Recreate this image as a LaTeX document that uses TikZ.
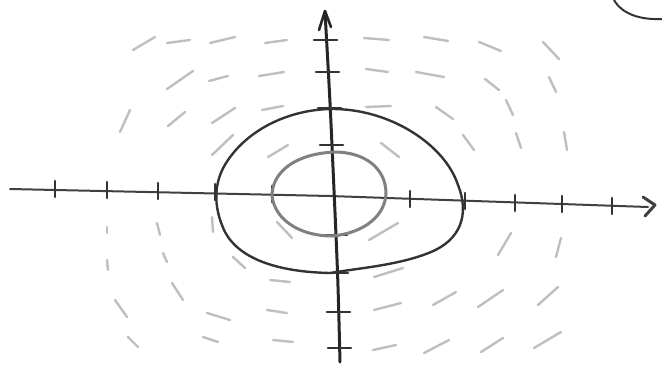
\documentclass[tikz,border=0pt]{standalone}
\usetikzlibrary{calc}
\begin{document}
\begin{tikzpicture}[x=1pt,y=-1pt,
  axis/.style={draw=black!75,line width=2pt,line cap=round,line join=round},
  tickmark/.style={draw=black!80,line width=2.6pt,line cap=round},
  outer/.style={draw=black!80,line width=2.4pt},
  inner/.style={draw=black!50,line width=3pt},
  fld/.style={draw=black!25,line width=2.4pt,line cap=round}]
\useasboundingbox (0,0) rectangle (662,370);
% horizontal axis
\coordinate (hl) at (10,189);
\coordinate (hm) at (330,196);
\coordinate (hr) at (648,207);
\draw[axis] (hl) -- (hm) -- (hr);
\draw[axis,line width=3pt] (643,197) -- (655,205) -- (645,216);
\foreach \x/\y in {55/189,107/190,158/191,215/192,272/194,410/199,465/201,515/203,562/204,612/206}
  \draw[tickmark] (\x,\y-8) -- (\x,\y+8);
% vertical axis
\coordinate (vt) at (325,12);
\coordinate (vm) at (334,190);
\coordinate (vb) at (340,362);
\draw[axis,line width=3pt,draw=black!85] (vt) .. controls (330,100) .. (vm) .. controls (338,280) .. (vb);
\draw[axis,line width=2.6pt,draw=black!85] (319,30) -- (325,11) -- (331,27);
\foreach \y/\x in {40/326,72/328,108/330,145/332,235/336,273/337,312/339,348/340}
  \draw[tickmark] (\x-12,\y) -- (\x+11,\y);
% outer closed curve
\draw[outer] (330,109) .. controls (390,108) and (445,145) .. (458,185)
  .. controls (470,215) and (460,240) .. (431,252)
  .. controls (400,265) and (360,268) .. (330,273)
  .. controls (280,272) and (240,260) .. (225,232)
  .. controls (212,205) and (214,180) .. (228,160)
  .. controls (250,128) and (290,110) .. (330,109);
% inner closed curve
\draw[inner] (334,152) .. controls (365,152) and (385,168) .. (386,192)
  .. controls (386,215) and (365,233) .. (332,236)
  .. controls (300,236) and (275,220) .. (272,196)
  .. controls (272,172) and (295,154) .. (334,152);
% partial arc top right
\draw[draw=black!80,line width=2pt] (614,0) .. controls (622,14) and (640,20) .. (662,19);
% field strokes
\foreach \a/\b/\c/\d in {
 133/50/155/37, 167/43/190/40, 210/43/235/37, 265/43/287/40,
 167/89/193/71, 209/81/228/76, 259/76/284/72,
 120/132/130/110, 168/126/185/112, 212/123/235/108, 262/110/283/106,
 212/155/233/135, 268/157/288/145,
 364/38/389/40, 424/37/448/41, 479/42/501/51, 543/42/559/59,
 366/69/388/72, 416/72/444/77, 485/79/499/90, 549/77/556/92,
 366/107/391/106, 436/107/453/119, 506/100/513/115,
 381/143/399/157, 463/135/474/150, 516/133/521/148, 564/132/567/150,
 212/217/213/232, 157/223/160/235, 107/227/107/233, 277/222/292/238,
 107/260/108/270, 163/253/167/262, 233/257/245/268,
 172/283/183/300, 115/300/127/317, 207/313/230/320,
 270/280/290/282, 267/310/287/313,
 128/337/138/347, 203/337/218/342, 273/340/293/342,
 369/240/398/223, 498/255/511/233, 556/257/561/238,
 374/277/403/268, 374/310/401/303, 433/305/456/292, 478/307/503/290, 538/305/558/287,
 373/350/396/345, 424/353/449/340, 481/352/503/338, 534/348/561/332}
  \draw[fld] (\a,\b) -- (\c,\d);
\end{tikzpicture}
\end{document}
